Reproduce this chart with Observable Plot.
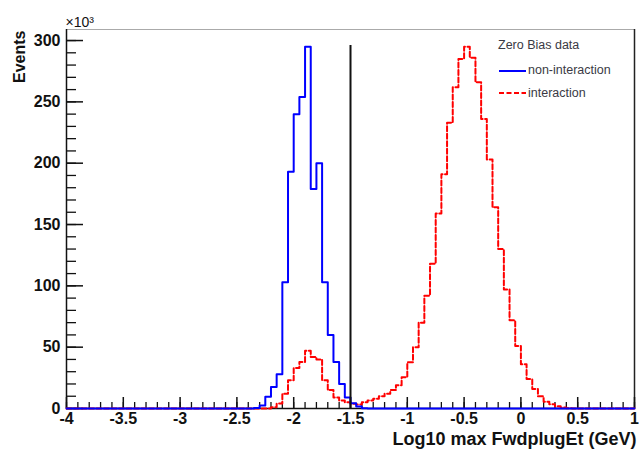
<!DOCTYPE html>
<html><head><meta charset="utf-8">
<script src="https://cdn.jsdelivr.net/npm/d3@7"></script>
<script src="https://cdn.jsdelivr.net/npm/@observablehq/plot@0.6"></script>
<style>
body{margin:0;background:#fff;}
#wrap{position:relative;width:639px;height:453px;}
.leg{position:absolute;font-family:"Liberation Sans",Arial,sans-serif;font-size:12.5px;line-height:14px;color:#3a3a44;white-space:nowrap;}
.legline{position:absolute;}
</style></head><body><div id="wrap"></div>
<script>
// ---- data (thousands of events per 0.05 bin) ----
const binWidth = 0.05;
const nonInteractionStart = -2.35;
const nonInteractionCounts = [0.5,2.5,9.5,17.5,28,103,193,240,254,295,179,200,103,60,38,20,9,4.3,1.6,0.3];
const interactionStart = -2.2;
const interactionCounts = [1,4,12,23,33,38,47,42,40,23,15,9,6.5,5,3.8,3.3,5,6.5,8,10,12,15,19,25.5,37.8,50,70,92,118,159,191,233,262,285,295,286,266,236,203,164,130,97,72,51,36,24,16,10,5.5,3.5,1.8,0.8,0.3];
const cutValue = -1.5;
const cutTop = 296;
const xDomain = [-4, 1];
const yDomain = [0, 309];
const xTicks = [-4,-3.5,-3,-2.5,-2,-1.5,-1,-0.5,0,0.5,1];
const yTicks = [0,50,100,150,200,250,300];
const xLabel = "Log10 max FwdplugEt (GeV)";
const yLabel = "Events";
const yScaleNote = "×10³";
const legendTitle = "Zero Bias data";
const seriesNames = ["non-interaction", "interaction"];

function steps(start, counts) {
  const pts = [{x: xDomain[0], y: 0}];
  counts.forEach((c, i) => pts.push({x: start + i * binWidth, y: c}));
  pts.push({x: start + counts.length * binWidth, y: 0});
  pts.push({x: xDomain[1], y: 0});
  return pts;
}
const blueSteps = steps(nonInteractionStart, nonInteractionCounts);
const redSteps = steps(interactionStart, interactionCounts);
const xMinor = d3.range(0, 51).map(i => xDomain[0] + i * 0.1);
const yMinor = d3.range(0, 31).map(i => i * 10);

const font = "'Liberation Sans', Arial, sans-serif";

const chart = Plot.plot({
  width: 639, height: 453,
  marginLeft: 66, marginRight: 5, marginTop: 29, marginBottom: 45,
  x: {domain: xDomain, label: null},
  y: {domain: yDomain, label: null},
  style: {fontFamily: font, fontSize: "16px", fontWeight: "bold", color: "#111", background: "#fff"},
  marks: [
    // frame
    Plot.ruleY([yDomain[1]], {stroke: "#aaa", strokeWidth: 1}),
    Plot.ruleX([xDomain[1]], {stroke: "#222", strokeWidth: 1.5}),
    Plot.ruleX([xDomain[0]], {stroke: "#111", strokeWidth: 1.5}),
    Plot.ruleY([0], {stroke: "#111", strokeWidth: 1.5}),
    // ticks (inward)
    Plot.axisX(xMinor, {tickSize: -6, tickFormat: () => "", strokeWidth: 1.3}),
    Plot.axisX(xTicks, {tickSize: -11, tickFormat: () => "", strokeWidth: 1.5}),
    Plot.axisX(xTicks, {tickSize: 0, tickPadding: 4, tickFormat: d => String(d), fontSize: 16, fontWeight: "bold"}),
    Plot.axisY(yMinor, {tickSize: -10, tickFormat: () => "", strokeWidth: 1.3}),
    Plot.axisY(yTicks, {tickSize: -17, tickFormat: () => "", strokeWidth: 1.5}),
    Plot.axisY(yTicks, {tickSize: 0, tickPadding: 6, tickFormat: d => String(d), fontSize: 16, fontWeight: "bold"}),
    // histograms
    Plot.line(redSteps, {x: "x", y: "y", curve: "step-after", stroke: "#ff0000", strokeWidth: 2, strokeDasharray: "5,2.5"}),
    Plot.line(blueSteps, {x: "x", y: "y", curve: "step-after", stroke: "#0000ff", strokeWidth: 2}),
    // cut line
    Plot.ruleX([cutValue], {y1: 0, y2: cutTop, stroke: "#111", strokeWidth: 2}),
    // labels
    Plot.text([yLabel], {text: d => d, frameAnchor: "top-left", rotate: -90, textAnchor: "end", lineAnchor: "middle", dx: -47, dy: 1, fontSize: 16, fontWeight: "bold"}),
    Plot.text([xLabel], {text: d => d, frameAnchor: "bottom-right", textAnchor: "end", lineAnchor: "middle", dx: 2, dy: 31, fontSize: 18, fontWeight: "bold"}),
    Plot.text([yScaleNote], {text: d => d, frameAnchor: "top-left", textAnchor: "start", lineAnchor: "bottom", dx: -1, dy: -3, fontSize: 14, fontWeight: "normal"})
  ]
});

const wrap = document.getElementById("wrap");
wrap.appendChild(chart);

function addText(txt, left, cy) {
  const d = document.createElement("div");
  d.className = "leg";
  d.textContent = txt;
  d.style.left = left + "px";
  d.style.top = (cy - 7) + "px";
  wrap.appendChild(d);
}
function addLine(color, dash, left, cy) {
  const ns = "http://www.w3.org/2000/svg";
  const s = document.createElementNS(ns, "svg");
  s.setAttribute("class", "legline");
  s.setAttribute("width", 27); s.setAttribute("height", 6);
  s.style.left = left + "px"; s.style.top = (cy - 3) + "px";
  const l = document.createElementNS(ns, "line");
  l.setAttribute("x1", 0); l.setAttribute("x2", 27); l.setAttribute("y1", 3); l.setAttribute("y2", 3);
  l.setAttribute("stroke", color); l.setAttribute("stroke-width", 2);
  if (dash) l.setAttribute("stroke-dasharray", dash);
  s.appendChild(l);
  wrap.appendChild(s);
}
addText(legendTitle, 498, 45);
addLine("#0000ff", null, 499, 70.5);
addText(seriesNames[0], 528, 70);
addLine("#ff0000", "5,2.5", 499, 93);
addText(seriesNames[1], 528, 93);
</script>
</body></html>
